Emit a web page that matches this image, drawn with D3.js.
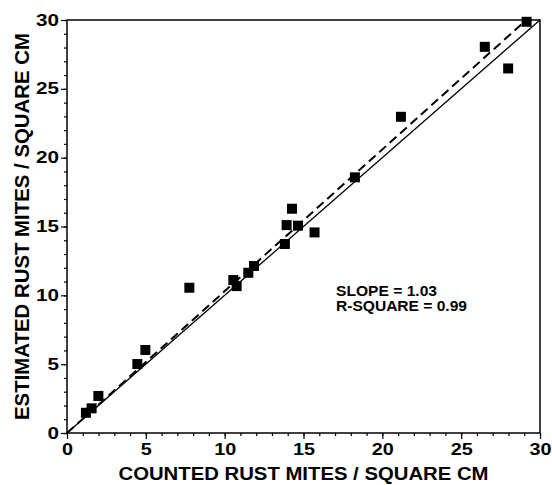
<!DOCTYPE html>
<html>
<head>
<meta charset="utf-8">
<script src="https://d3js.org/d3.v7.min.js"></script>
<style>
  body { margin: 0; background: #fff; }
  svg text { font-family: "Liberation Sans", Arial, sans-serif; font-weight: bold; fill: #000; }
</style>
</head>
<body>
<div id="chart"></div>
<script>
const width = 552
const height = 485
const margin = { top: 20, left: 67, right: 12, bottom: 52 }

// counted vs estimated rust mites per square cm
const counted = [1.2, 1.56, 1.99, 4.46, 4.97, 7.76, 10.55, 10.76, 11.5, 11.86, 13.82, 13.93, 14.27, 14.65, 15.7, 18.26, 21.18, 26.5, 27.98, 29.15]
const estimated = [1.47, 1.79, 2.69, 5.01, 6.03, 10.55, 11.11, 10.67, 11.64, 12.13, 13.73, 15.1, 16.29, 15.06, 14.57, 18.57, 22.97, 28.05, 26.48, 29.87]
const majorTicks = [0, 5, 10, 15, 20, 25, 30]
const minorTicks = d3.range(0, 31)
const slope = 1.03
const rSquare = 0.99

const svg = d3.select("#chart").append("svg")
    .attr("width", width).attr("height", height)

const x = d3.scaleLinear().domain([0, 30]).range([margin.left, width - margin.right])
const y = d3.scaleLinear().domain([0, 30]).range([height - margin.bottom, margin.top])

// minor ticks
svg.append("g")
    .attr("transform", "translate(0," + y(0) + ")")
    .call(d3.axisBottom(x).tickValues(minorTicks).tickSize(3).tickFormat(""))
    .call(g => g.select(".domain").remove())
svg.append("g")
    .attr("transform", "translate(" + x(0) + ",0)")
    .call(d3.axisLeft(y).tickValues(minorTicks).tickSize(3).tickFormat(""))
    .call(g => g.select(".domain").remove())

// major ticks + labels
const xAxis = svg.append("g")
    .attr("transform", "translate(0," + y(0) + ")")
    .call(d3.axisBottom(x).tickValues(majorTicks).tickSize(6).tickPadding(5))
xAxis.select(".domain").remove()
xAxis.selectAll("text")
    .style("font-size", "16px")
    .attr("textLength", d => String(d).length * 11)
    .attr("lengthAdjust", "spacingAndGlyphs")

const yAxis = svg.append("g")
    .attr("transform", "translate(" + x(0) + ",0)")
    .call(d3.axisLeft(y).tickValues(majorTicks).tickSize(6).tickPadding(2))
yAxis.select(".domain").remove()
yAxis.selectAll("text")
    .style("font-size", "16px")
    .attr("textLength", d => String(d).length * 11.5)
    .attr("lengthAdjust", "spacingAndGlyphs")

svg.selectAll(".tick line").attr("stroke", "#000").attr("stroke-width", 1.2)

// frame
svg.append("rect")
    .attr("x", x(0)).attr("y", y(30))
    .attr("width", x(30) - x(0)).attr("height", y(0) - y(30))
    .attr("fill", "none").attr("stroke", "#000").attr("stroke-width", 1.5)

// 1:1 line
svg.append("line")
    .attr("x1", x(0)).attr("y1", y(0))
    .attr("x2", x(30)).attr("y2", y(30))
    .attr("stroke", "#000").attr("stroke-width", 1.3)

// regression line
const xEnd = 30 / slope
svg.append("line")
    .attr("x1", x(0)).attr("y1", y(0))
    .attr("x2", x(xEnd)).attr("y2", y(slope * xEnd))
    .attr("stroke", "#000").attr("stroke-width", 2)
    .attr("stroke-dasharray", "9,5")

// points
const size = 10
svg.selectAll(".pt")
    .data(counted)
    .enter()
    .append("rect")
    .attr("class", "pt")
    .attr("x", (d, i) => x(d) - size / 2)
    .attr("y", (d, i) => y(estimated[i]) - size / 2)
    .attr("width", size).attr("height", size)
    .attr("fill", "#000")

// stats
svg.append("text")
    .attr("x", 336).attr("y", 296)
    .style("font-size", "14.5px")
    .attr("textLength", 101).attr("lengthAdjust", "spacingAndGlyphs")
    .text("SLOPE = " + slope.toFixed(2))
svg.append("text")
    .attr("x", 336).attr("y", 311)
    .style("font-size", "14.5px")
    .attr("textLength", 131).attr("lengthAdjust", "spacingAndGlyphs")
    .text("R-SQUARE = " + rSquare.toFixed(2))

// axis titles
svg.append("text")
    .attr("x", (x(0) + x(30)) / 2).attr("y", 480)
    .attr("text-anchor", "middle")
    .style("font-size", "17.5px")
    .attr("textLength", 370).attr("lengthAdjust", "spacingAndGlyphs")
    .text("COUNTED RUST MITES / SQUARE CM")

svg.append("text")
    .attr("transform", "translate(29," + (y(0) + y(30)) / 2 + ") rotate(-90)")
    .attr("text-anchor", "middle")
    .style("font-size", "21px")
    .attr("textLength", 387).attr("lengthAdjust", "spacingAndGlyphs")
    .text("ESTIMATED RUST MITES / SQUARE CM")
</script>
</body>
</html>
